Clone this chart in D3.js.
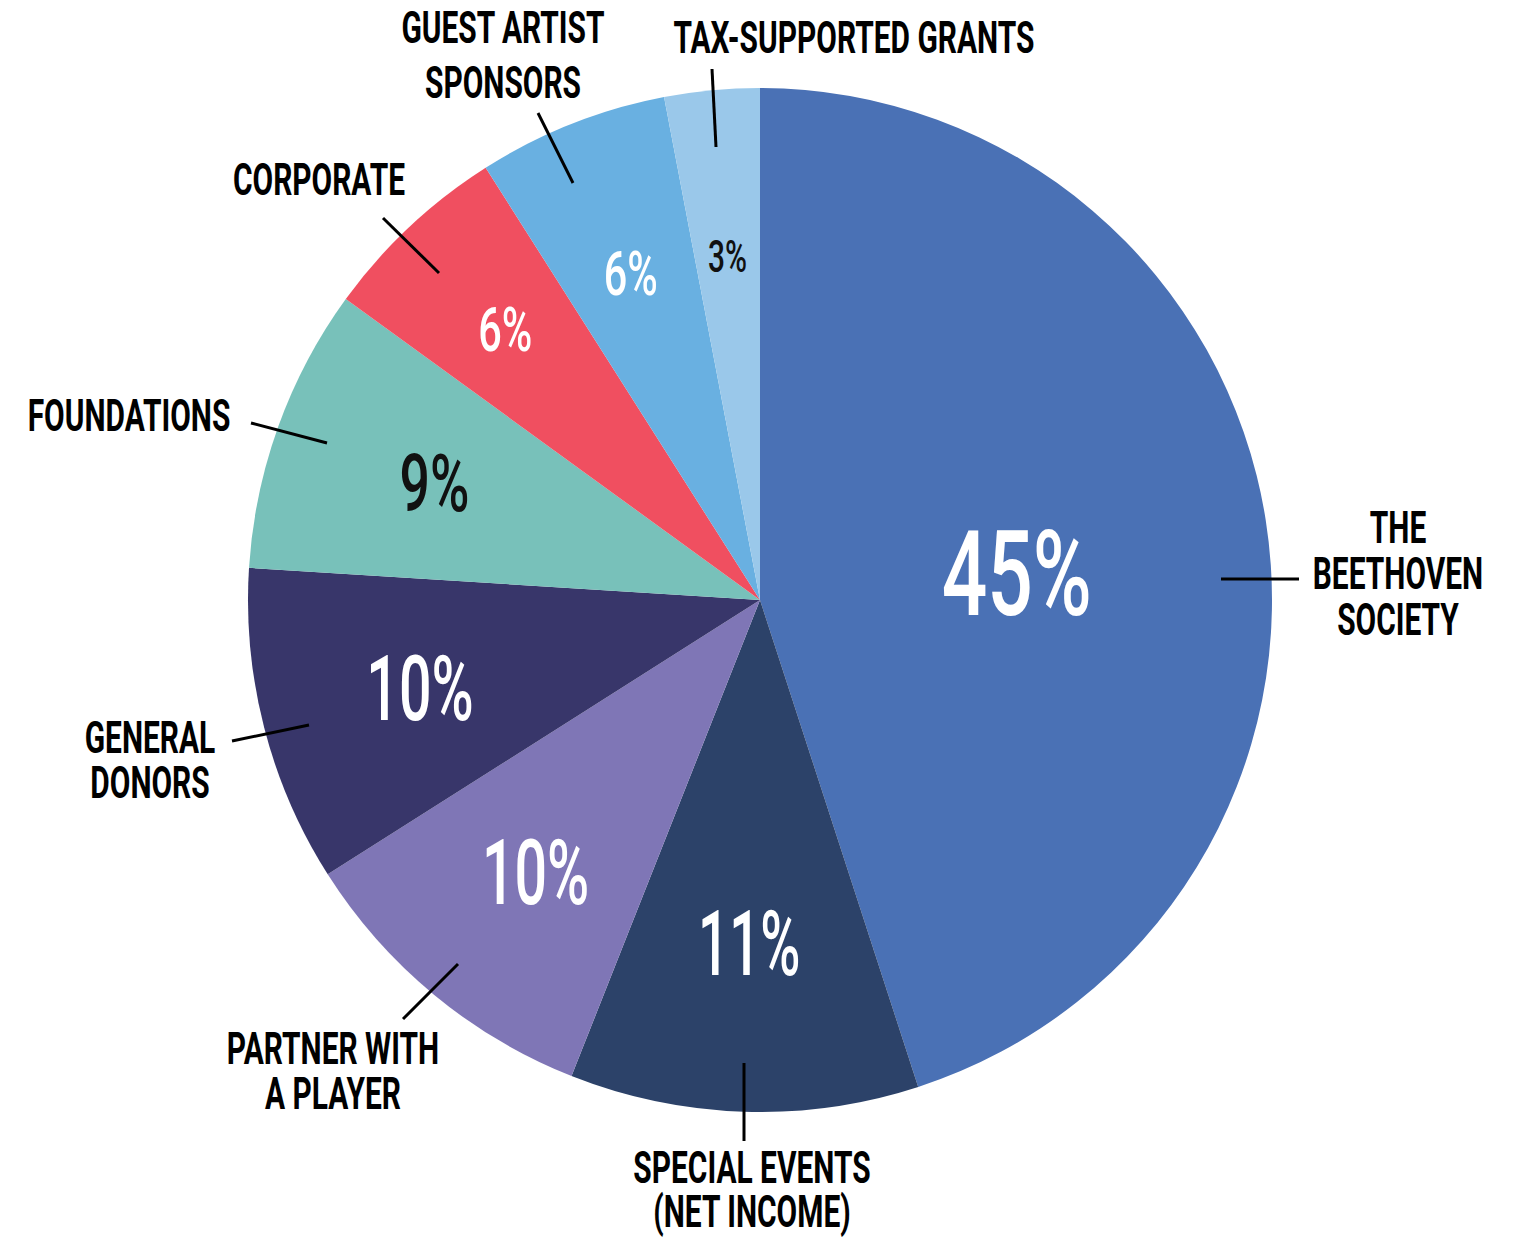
<!DOCTYPE html>
<html>
<head>
<meta charset="utf-8">
<script src="https://cdn.jsdelivr.net/npm/d3@7"></script>
<style>
  html, body { margin: 0; padding: 0; background: #ffffff; }
  svg { display: block; }
  text { font-family: Roboto, "Noto Sans", sans-serif; }
</style>
</head>
<body>
<svg id="chart" width="1518" height="1238"></svg>
<script>
// ---- data ----
const categories = [
  "The Beethoven Society",
  "Special Events (Net Income)",
  "Partner With a Player",
  "General Donors",
  "Foundations",
  "Corporate",
  "Guest Artist Sponsors",
  "Tax-Supported Grants"
];
const values = [45, 11, 10, 10, 9, 6, 6, 3];
const sliceColors = ["#4A71B5", "#2C4269", "#7F76B6", "#38366A", "#78C1BA", "#F04F60", "#69B0E1", "#9AC8EA"];
const labelLines = [
  ["THE", "BEETHOVEN", "SOCIETY"],
  ["SPECIAL EVENTS", "(NET INCOME)"],
  ["PARTNER WITH", "A PLAYER"],
  ["GENERAL", "DONORS"],
  ["FOUNDATIONS"],
  ["CORPORATE"],
  ["GUEST ARTIST", "SPONSORS"],
  ["TAX-SUPPORTED GRANTS"]
];
const pctTextColors = ["#ffffff", "#ffffff", "#ffffff", "#ffffff", "#111111", "#ffffff", "#ffffff", "#111111"];

// ---- layout ----
const cx = 760, cy = 600, R = 512;
const nameCondense = 0.68;

// percentage labels: radius along mid-angle, font size, horizontal condense, offsets
const pctLayout = [
  { r: 262, size: 118, sx: 0.68, dx: -2, dy: 14 },
  { r: 343, size: 91, sx: 0.60, dx: 0, dy: 0 },
  { r: 352, size: 91, sx: 0.63, dx: 0, dy: 0 },
  { r: 351, size: 91, sx: 0.63, dx: 0, dy: 0 },
  { r: 346, size: 80, sx: 0.67, dx: 0, dy: 0 },
  { r: 372, size: 61, sx: 0.68, dx: 0, dy: 0 },
  { r: 351, size: 61, sx: 0.68, dx: 0, dy: 0 },
  { r: 345, size: 44, sx: 0.68, dx: 0, dy: 0 }
];

// category labels & leader lines (annotation layout, page pixels)
const nameLayout = [
  { x: 1398, y: 543, lh: 46, line: [[1221, 579], [1299, 579]] },
  { x: 752,  y: 1183, lh: 44, line: [[744, 1063], [744, 1141]] },
  { x: 333,  y: 1064, lh: 45, line: [[403, 1019], [458, 964]] },
  { x: 150,  y: 753, lh: 45, line: [[232, 741], [309, 725]] },
  { x: 129,  y: 431, lh: 45, line: [[251, 423], [327, 443]] },
  { x: 319,  y: 195, lh: 45, line: [[383, 218], [439, 273]] },
  { x: 503,  y: 43,  lh: 55, line: [[538, 113], [573, 183]] },
  { x: 854,  y: 53,  lh: 45, line: [[712, 69], [716, 147]] }
];

const svg = d3.select("#chart");

const pie = d3.pie().sort(null).value(d => d).startAngle(0).endAngle(2 * Math.PI);
const arcs = pie(values);
const arc = d3.arc().innerRadius(0).outerRadius(R);

const g = svg.append("g").attr("transform", `translate(${cx},${cy})`);

g.selectAll("path.slice")
  .data(arcs)
  .join("path")
  .attr("class", "slice")
  .attr("d", arc)
  .attr("fill", (d, i) => sliceColors[i]);

// percentage labels
g.selectAll("text.pct")
  .data(arcs)
  .join("text")
  .attr("class", "pct")
  .attr("text-anchor", "middle")
  .attr("font-weight", 500)
  .attr("font-size", (d, i) => pctLayout[i].size)
  .attr("fill", (d, i) => pctTextColors[i])
  .attr("transform", (d, i) => {
    const L = pctLayout[i];
    const c = d3.arc().innerRadius(L.r).outerRadius(L.r).centroid(d);
    const capH = L.size * 0.711;
    return `translate(${c[0] + L.dx},${c[1] + L.dy + capH / 2}) scale(${L.sx},1)`;
  })
  .text(d => d.value + "%");

// leader lines
svg.selectAll("line.leader")
  .data(nameLayout)
  .join("line")
  .attr("class", "leader")
  .attr("x1", d => d.line[0][0]).attr("y1", d => d.line[0][1])
  .attr("x2", d => d.line[1][0]).attr("y2", d => d.line[1][1])
  .attr("stroke", "#000")
  .attr("stroke-width", 3);

// category names (one text per label, lines as tspans)
const names = svg.selectAll("text.name")
  .data(nameLayout)
  .join("text")
  .attr("class", "name")
  .attr("text-anchor", "middle")
  .attr("font-weight", 700)
  .attr("font-size", 44)
  .attr("fill", "#000")
  .attr("transform", d => `translate(${d.x},${d.y}) scale(${nameCondense},1)`);

names.each(function (L, i) {
  d3.select(this).selectAll("tspan")
    .data(labelLines[i])
    .join("tspan")
    .attr("x", 0)
    .attr("y", (t, j) => j * L.lh)
    .text(t => t);
});
</script>
</body>
</html>
